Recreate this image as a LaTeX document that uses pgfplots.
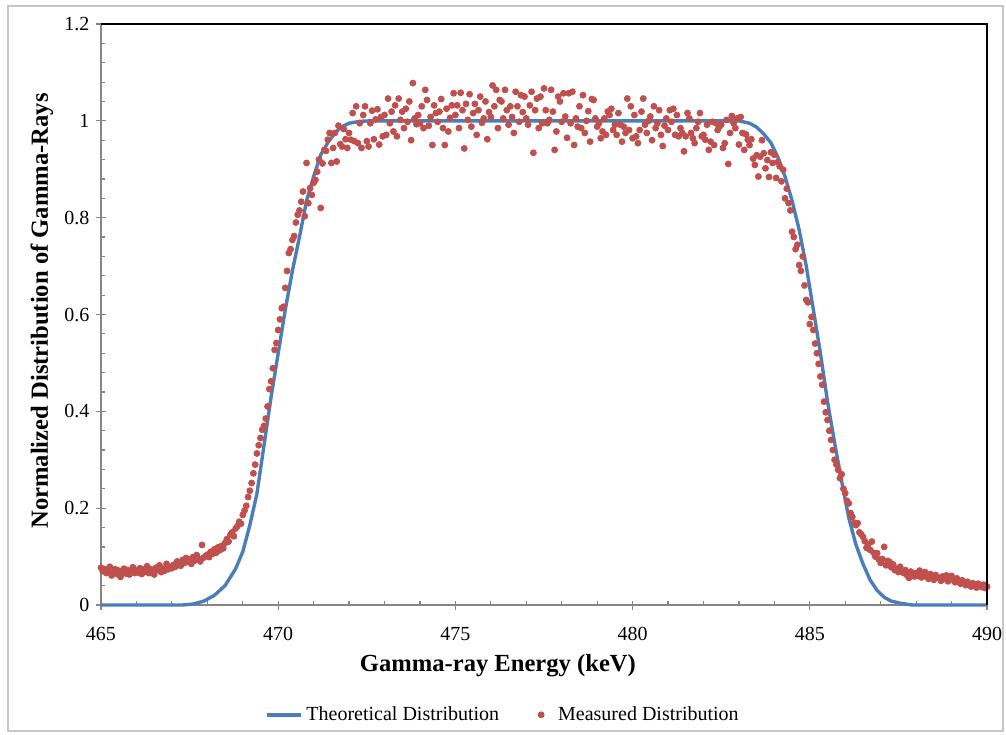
\documentclass[border=0pt]{standalone}
\usepackage{fontspec}
\setmainfont{Liberation Serif}
\usepackage{pgfplots}
\usepackage{pgfplotstable}
\pgfplotsset{compat=1.18}

\definecolor{theoblue}{HTML}{4A7EBB}
\definecolor{measred}{HTML}{C0504D}
\definecolor{axisgray}{HTML}{868686}

% theoretical (smooth flat-top) curve
\pgfplotstableread[row sep=\\]{
x y\\
465.0 0\\ 467.3 0\\ 467.6 0.002\\ 467.9 0.008\\ 468.2 0.020\\ 468.5 0.040\\
468.8 0.075\\ 469.0 0.110\\ 469.2 0.165\\ 469.4 0.230\\ 469.6 0.330\\ 469.8 0.430\\
470.0 0.520\\ 470.2 0.610\\ 470.4 0.690\\ 470.6 0.760\\ 470.8 0.835\\ 471.0 0.885\\
471.2 0.930\\ 471.4 0.955\\ 471.6 0.975\\ 471.8 0.988\\ 472.0 0.995\\ 472.3 0.999\\
472.6 1\\ 483.0 1\\ 483.3 0.995\\ 483.5 0.987\\ 483.7 0.973\\ 483.9 0.955\\
484.1 0.925\\ 484.3 0.885\\ 484.5 0.835\\ 484.7 0.775\\ 484.9 0.700\\ 485.1 0.610\\
485.3 0.520\\ 485.5 0.420\\ 485.7 0.335\\ 485.9 0.255\\ 486.1 0.180\\ 486.3 0.125\\
486.5 0.085\\ 486.7 0.052\\ 486.9 0.030\\ 487.1 0.016\\ 487.3 0.008\\ 487.6 0.003\\
487.9 0\\ 490.0 0\\
}\theory

% measured spectrum, 0.05 keV bins
\pgfplotstableread[row sep=\\]{
x y\\
465.00 0.077\\ 465.05 0.070\\ 465.10 0.074\\ 465.15 0.066\\ 465.20 0.072\\ 465.25 0.079\\ 465.30 0.061\\ 465.35 0.068\\ 465.40 0.074\\ 465.45 0.064\\
465.50 0.071\\ 465.55 0.058\\ 465.60 0.069\\ 465.65 0.075\\ 465.70 0.065\\ 465.75 0.072\\ 465.80 0.063\\ 465.85 0.070\\ 465.90 0.078\\ 465.95 0.066\\
466.00 0.071\\ 466.05 0.067\\ 466.10 0.076\\ 466.15 0.064\\ 466.20 0.073\\ 466.25 0.069\\ 466.30 0.080\\ 466.35 0.066\\ 466.40 0.074\\ 466.45 0.070\\
466.50 0.063\\ 466.55 0.077\\ 466.60 0.072\\ 466.65 0.082\\ 466.70 0.068\\ 466.75 0.075\\ 466.80 0.071\\ 466.85 0.085\\ 466.90 0.074\\ 466.95 0.079\\
467.00 0.076\\ 467.05 0.083\\ 467.10 0.079\\ 467.15 0.090\\ 467.20 0.084\\ 467.25 0.081\\ 467.30 0.093\\ 467.35 0.087\\ 467.40 0.097\\ 467.45 0.089\\
467.50 0.094\\ 467.55 0.085\\ 467.60 0.099\\ 467.65 0.092\\ 467.70 0.103\\ 467.75 0.096\\ 467.80 0.090\\ 467.85 0.124\\ 467.90 0.098\\ 467.95 0.101\\
468.00 0.104\\ 468.05 0.099\\ 468.10 0.110\\ 468.15 0.106\\ 468.20 0.115\\ 468.25 0.108\\ 468.30 0.119\\ 468.35 0.113\\ 468.40 0.122\\ 468.45 0.117\\
468.50 0.128\\ 468.55 0.136\\ 468.60 0.131\\ 468.65 0.145\\ 468.70 0.150\\ 468.75 0.142\\ 468.80 0.158\\ 468.85 0.163\\ 468.90 0.172\\ 468.95 0.168\\
469.00 0.186\\ 469.05 0.195\\ 469.10 0.205\\ 469.15 0.223\\ 469.20 0.236\\ 469.25 0.252\\ 469.30 0.272\\ 469.35 0.290\\ 469.40 0.313\\ 469.45 0.330\\
469.50 0.345\\ 469.55 0.362\\ 469.60 0.370\\ 469.65 0.385\\ 469.70 0.410\\ 469.75 0.446\\ 469.80 0.462\\ 469.85 0.489\\ 469.90 0.527\\ 469.95 0.541\\
470.00 0.568\\ 470.05 0.590\\ 470.10 0.613\\ 470.15 0.616\\ 470.20 0.655\\ 470.25 0.690\\ 470.30 0.727\\ 470.35 0.735\\ 470.40 0.754\\ 470.45 0.762\\
470.50 0.790\\ 470.55 0.806\\ 470.60 0.815\\ 470.65 0.833\\ 470.70 0.854\\ 470.75 0.803\\ 470.80 0.913\\ 470.85 0.830\\ 470.90 0.861\\ 470.95 0.847\\
471.00 0.872\\ 471.05 0.878\\ 471.10 0.895\\ 471.15 0.920\\ 471.20 0.820\\ 471.25 0.912\\ 471.30 0.940\\ 471.35 0.938\\ 471.40 0.961\\ 471.45 0.975\\
471.50 0.913\\ 471.55 0.944\\ 471.60 0.975\\ 471.65 0.916\\ 471.70 0.990\\ 471.75 0.952\\ 471.80 0.947\\ 471.85 0.983\\ 471.90 0.962\\ 471.95 0.944\\
472.00 0.975\\ 472.05 0.961\\ 472.10 1.016\\ 472.15 0.958\\ 472.20 1.030\\ 472.25 0.954\\ 472.30 0.995\\ 472.35 0.944\\ 472.40 1.012\\ 472.45 1.030\\
472.50 0.958\\ 472.55 0.947\\ 472.60 0.995\\ 472.65 1.021\\ 472.70 0.962\\ 472.75 1.003\\ 472.80 1.024\\ 472.85 0.951\\ 472.90 1.008\\ 472.95 0.968\\
473.00 1.012\\ 473.05 0.971\\ 473.10 1.046\\ 473.15 0.995\\ 473.20 1.019\\ 473.25 0.978\\ 473.30 1.032\\ 473.35 0.968\\ 473.40 1.046\\ 473.45 1.002\\
473.50 1.019\\ 473.55 0.985\\ 473.60 1.025\\ 473.65 0.998\\ 473.70 1.040\\ 473.75 0.960\\ 473.80 1.078\\ 473.85 1.005\\ 473.90 0.993\\ 473.95 1.012\\
474.00 0.995\\ 474.05 1.030\\ 474.10 0.985\\ 474.15 1.064\\ 474.20 1.043\\ 474.25 0.990\\ 474.30 1.008\\ 474.35 0.950\\ 474.40 1.032\\ 474.45 1.016\\
474.50 0.998\\ 474.55 1.019\\ 474.60 1.045\\ 474.65 0.985\\ 474.70 0.950\\ 474.75 1.025\\ 474.80 0.978\\ 474.85 1.006\\ 474.90 1.032\\ 474.95 1.057\\
475.00 1.012\\ 475.05 1.032\\ 475.10 0.985\\ 475.15 1.058\\ 475.20 1.022\\ 475.25 0.943\\ 475.30 1.035\\ 475.35 1.002\\ 475.40 1.055\\ 475.45 0.988\\
475.50 1.016\\ 475.55 1.035\\ 475.60 0.971\\ 475.65 1.022\\ 475.70 1.050\\ 475.75 0.996\\ 475.80 1.005\\ 475.85 1.040\\ 475.90 0.962\\ 475.95 1.018\\
476.00 1.008\\ 476.05 1.073\\ 476.10 1.030\\ 476.15 1.064\\ 476.20 0.985\\ 476.25 1.043\\ 476.30 1.040\\ 476.35 1.005\\ 476.40 1.064\\ 476.45 1.022\\
476.50 0.992\\ 476.55 1.030\\ 476.60 1.008\\ 476.65 0.975\\ 476.70 1.060\\ 476.75 1.030\\ 476.80 0.998\\ 476.85 1.053\\ 476.90 1.018\\ 476.95 1.050\\
477.00 1.005\\ 477.05 0.992\\ 477.10 1.032\\ 477.15 1.060\\ 477.20 0.934\\ 477.25 1.022\\ 477.30 1.046\\ 477.35 0.985\\ 477.40 1.050\\ 477.45 0.995\\
477.50 1.067\\ 477.55 1.022\\ 477.60 0.995\\ 477.65 1.002\\ 477.70 1.064\\ 477.75 1.019\\ 477.80 0.940\\ 477.85 0.978\\ 477.90 1.050\\ 477.95 1.040\\
478.00 0.998\\ 478.05 1.057\\ 478.10 1.009\\ 478.15 0.965\\ 478.20 1.057\\ 478.25 0.995\\ 478.30 1.060\\ 478.35 0.950\\ 478.40 1.005\\ 478.45 0.988\\
478.50 1.030\\ 478.55 0.985\\ 478.60 1.053\\ 478.65 0.975\\ 478.70 1.000\\ 478.75 1.020\\ 478.80 0.957\\ 478.85 1.045\\ 478.90 1.043\\ 478.95 1.005\\
479.00 0.988\\ 479.05 0.995\\ 479.10 0.964\\ 479.15 0.978\\ 479.20 1.005\\ 479.25 0.971\\ 479.30 1.019\\ 479.35 1.012\\ 479.40 1.025\\ 479.45 0.981\\
479.50 0.992\\ 479.55 0.971\\ 479.60 1.016\\ 479.65 0.992\\ 479.70 0.957\\ 479.75 0.988\\ 479.80 0.975\\ 479.85 1.046\\ 479.90 0.981\\ 479.95 1.030\\
480.00 0.964\\ 480.05 1.012\\ 480.10 0.968\\ 480.15 0.954\\ 480.20 0.981\\ 480.25 1.019\\ 480.30 1.046\\ 480.35 0.992\\ 480.40 0.975\\ 480.45 1.000\\
480.50 1.009\\ 480.55 0.960\\ 480.60 1.030\\ 480.65 0.985\\ 480.70 0.995\\ 480.75 1.022\\ 480.80 0.971\\ 480.85 0.948\\ 480.90 0.990\\ 480.95 1.005\\
481.00 0.981\\ 481.05 1.022\\ 481.10 0.998\\ 481.15 1.025\\ 481.20 0.971\\ 481.25 1.012\\ 481.30 0.968\\ 481.35 0.985\\ 481.40 0.975\\ 481.45 0.937\\
481.50 0.968\\ 481.55 1.016\\ 481.60 1.005\\ 481.65 0.975\\ 481.70 0.964\\ 481.75 0.954\\ 481.80 0.985\\ 481.85 0.998\\ 481.90 1.016\\ 481.95 0.968\\
482.00 0.971\\ 482.05 0.961\\ 482.10 0.992\\ 482.15 0.940\\ 482.20 0.957\\ 482.25 0.998\\ 482.30 0.950\\ 482.35 0.995\\ 482.40 0.981\\ 482.45 0.988\\
482.50 0.992\\ 482.55 0.944\\ 482.60 0.954\\ 482.65 1.002\\ 482.70 0.911\\ 482.75 0.975\\ 482.80 1.010\\ 482.85 0.995\\ 482.90 0.985\\ 482.95 1.005\\
483.00 0.951\\ 483.05 1.008\\ 483.10 0.975\\ 483.15 0.940\\ 483.20 0.972\\ 483.25 0.961\\ 483.30 0.950\\ 483.35 0.962\\ 483.40 0.922\\ 483.45 0.909\\
483.50 0.929\\ 483.55 0.885\\ 483.60 0.926\\ 483.65 0.960\\ 483.70 0.933\\ 483.75 0.902\\ 483.80 0.919\\ 483.85 0.884\\ 483.90 0.935\\ 483.95 0.913\\
484.00 0.930\\ 484.05 0.882\\ 484.10 0.915\\ 484.15 0.906\\ 484.20 0.875\\ 484.25 0.899\\ 484.30 0.840\\ 484.35 0.860\\ 484.40 0.830\\ 484.45 0.815\\
484.50 0.771\\ 484.55 0.760\\ 484.60 0.735\\ 484.65 0.744\\ 484.70 0.702\\ 484.75 0.690\\ 484.80 0.720\\ 484.85 0.660\\ 484.90 0.630\\ 484.95 0.625\\
485.00 0.580\\ 485.05 0.595\\ 485.10 0.568\\ 485.15 0.540\\ 485.20 0.520\\ 485.25 0.498\\ 485.30 0.472\\ 485.35 0.455\\ 485.40 0.420\\ 485.45 0.398\\
485.50 0.382\\ 485.55 0.360\\ 485.60 0.341\\ 485.65 0.320\\ 485.70 0.300\\ 485.75 0.290\\ 485.80 0.279\\ 485.85 0.262\\ 485.90 0.270\\ 485.95 0.240\\
486.00 0.231\\ 486.05 0.215\\ 486.10 0.210\\ 486.15 0.190\\ 486.20 0.182\\ 486.25 0.170\\ 486.30 0.165\\ 486.35 0.169\\ 486.40 0.150\\ 486.45 0.146\\
486.50 0.141\\ 486.55 0.132\\ 486.60 0.118\\ 486.65 0.125\\ 486.70 0.114\\ 486.75 0.131\\ 486.80 0.108\\ 486.85 0.100\\ 486.90 0.107\\ 486.95 0.094\\
487.00 0.087\\ 487.05 0.095\\ 487.10 0.120\\ 487.15 0.082\\ 487.20 0.091\\ 487.25 0.089\\ 487.30 0.078\\ 487.35 0.084\\ 487.40 0.072\\ 487.45 0.075\\
487.50 0.068\\ 487.55 0.079\\ 487.60 0.070\\ 487.65 0.066\\ 487.70 0.072\\ 487.75 0.061\\ 487.80 0.056\\ 487.85 0.069\\ 487.90 0.065\\ 487.95 0.059\\
488.00 0.066\\ 488.05 0.060\\ 488.10 0.071\\ 488.15 0.057\\ 488.20 0.063\\ 488.25 0.068\\ 488.30 0.058\\ 488.35 0.054\\ 488.40 0.064\\ 488.45 0.060\\
488.50 0.052\\ 488.55 0.062\\ 488.60 0.057\\ 488.65 0.056\\ 488.70 0.050\\ 488.75 0.059\\ 488.80 0.054\\ 488.85 0.061\\ 488.90 0.049\\ 488.95 0.055\\
489.00 0.060\\ 489.05 0.052\\ 489.10 0.047\\ 489.15 0.055\\ 489.20 0.049\\ 489.25 0.044\\ 489.30 0.051\\ 489.35 0.046\\ 489.40 0.041\\ 489.45 0.048\\
489.50 0.043\\ 489.55 0.038\\ 489.60 0.045\\ 489.65 0.040\\ 489.70 0.036\\ 489.75 0.044\\ 489.80 0.041\\ 489.85 0.037\\ 489.90 0.042\\ 489.95 0.035\\
490.00 0.038\\
}\measured

\begin{document}
\begin{tikzpicture}
  \useasboundingbox (-50.5pt,-64.5pt) rectangle (452.5pt,302.5pt);
  \draw[gray!45, line width=0.6pt] (-46.5pt,-63pt) rectangle (451pt,299.5pt);
  \begin{axis}[
      name=ax,
      scale only axis,
      width=443pt, height=290.5pt,
      xmin=465, xmax=490, ymin=0, ymax=1.2,
      xtick={465,470,475,480,485,490},
      ytick={0,0.2,0.4,0.6,0.8,1,1.2},
      minor x tick num=4, minor y tick num=4,
      axis lines=left,
      axis line style={-, axisgray, line width=0.8pt},
      tick align=center,
      major tick length=4.5pt, minor tick length=2pt,
      every tick/.style={axisgray, line width=0.6pt},
      minor x tick style={yshift=1pt},
      minor y tick style={xshift=1pt},
      tick label style={font=\fontsize{10}{12}\selectfont},
      xticklabel style={yshift=-5.5pt},
      /pgf/number format/assume math mode=true,
      xlabel={Gamma-ray Energy (keV)},
      ylabel={Normalized Distribution of Gamma-Rays},
      label style={font=\fontsize{12.3}{14}\selectfont\bfseries},
      xlabel style={at={(axis description cs:0.448,-0.105)}, anchor=center},
      ylabel style={at={(axis description cs:-0.0666,0.506)}, anchor=center},
      clip=false,
      legend columns=2,
      legend cell align=left,
      legend style={at={(axis description cs:0.4546,-0.189)}, anchor=center,
        draw=none, fill=none, font=\fontsize{10}{12}\selectfont,
        /tikz/every even column/.append style={column sep=17.5pt},
        /tikz/column 3/.style={column sep=5pt}},
    ]
    \addplot[theoblue, line width=1.7pt, line join=round] table[x=x, y=y] {\theory};
    \addlegendentry{Theoretical Distribution}
    \addplot[only marks, mark=*, mark size=1.5pt, draw=none,
      mark options={fill=measred, draw=measred}] table[x=x, y=y] {\measured};
    \addlegendentry{Measured Distribution}
  \end{axis}
  \draw[black, line width=0.7pt] (ax.north west) -- (ax.north east) -- (ax.south east);
\end{tikzpicture}
\end{document}
